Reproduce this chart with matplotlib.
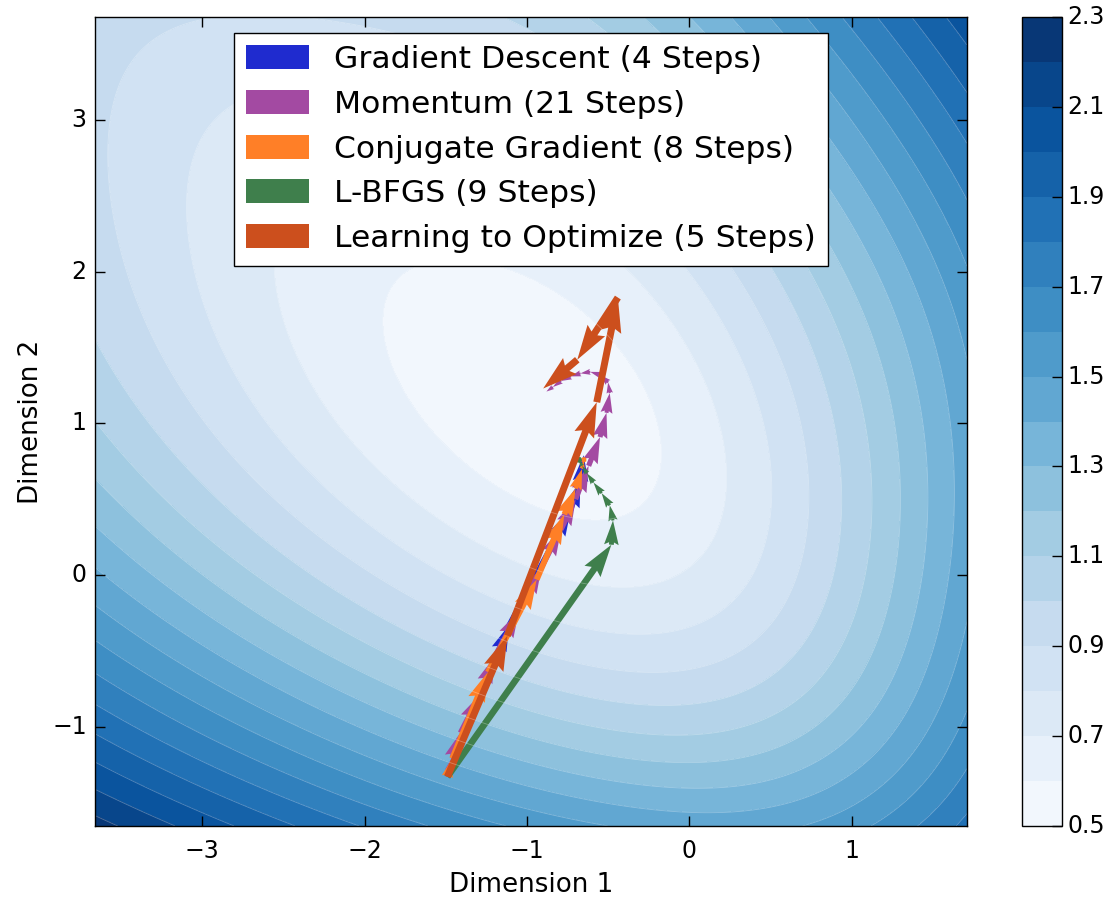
import numpy as np
import matplotlib
matplotlib.use('Agg')
import matplotlib.pyplot as plt

# loss surface: sum of smooth hinge (softplus) walls
base_level = -0.4204
wall_angle = [0.2133, -1.1995, 3.9175, 1.0115, 2.4371]
wall_slope = [0.3984, 0.5507, 0.4740, 0.2812, 0.1067]
wall_offset = [0.2552, -0.4225, -0.1236, -0.9808, -0.1808]
wall_width = [0.45, 1.0735, 0.45, 0.45, 0.45]
levels = np.arange(0.5, 2.31, 0.1)
cbar_ticks = [0.5, 0.7, 0.9, 1.1, 1.3, 1.5, 1.7, 1.9, 2.1, 2.3]

# optimizer iterates
gd_x = [-1.49, -1.11, -0.73, -0.67, -0.65]
gd_y = [-1.33, -0.33, 0.43, 0.62, 0.79]
mom_x = [-1.49, -1.48, -1.46, -1.41, -1.29, -1.20, -1.05, -0.91, -0.79, -0.70, -0.62,
         -0.55, -0.51, -0.49, -0.50, -0.55, -0.61, -0.67, -0.73, -0.79, -0.84, -0.88]
mom_y = [-1.33, -1.29, -1.20, -1.04, -0.79, -0.54, -0.24, 0.05, 0.30, 0.50, 0.72,
         0.91, 1.07, 1.20, 1.27, 1.32, 1.34, 1.33, 1.31, 1.28, 1.24, 1.21]
cg_x = [-1.49, -1.46, -1.24, -0.94, -0.77, -0.70, -0.66, -0.65, -0.65]
cg_y = [-1.33, -1.21, -0.64, -0.03, 0.40, 0.57, 0.70, 0.76, 0.79]
lbfgs_x = [-1.49, -0.48, -0.47, -0.49, -0.54, -0.59, -0.63, -0.66, -0.68, -0.69]
lbfgs_y = [-1.33, 0.20, 0.36, 0.46, 0.54, 0.61, 0.67, 0.72, 0.76, 0.79]
l2o_x = [-1.49, -1.12, -0.57, -0.44, -0.69, -0.90]
l2o_y = [-1.33, -0.40, 1.14, 1.83, 1.42, 1.23]

paths = [
    (gd_x, gd_y, '#1f2bcf', 0.006, 'Gradient Descent (4 Steps)'),
    (mom_x, mom_y, '#a34aa2', 0.006, 'Momentum (21 Steps)'),
    (cg_x, cg_y, '#ff7f27', 0.0068, 'Conjugate Gradient (8 Steps)'),
    (lbfgs_x, lbfgs_y, '#3f7f4c', 0.0075, 'L-BFGS (9 Steps)'),
    (l2o_x, l2o_y, '#cc4f1d', 0.008, 'Learning to Optimize (5 Steps)'),
]


def loss(x, y):
    f = base_level + 0 * x
    for th, s, c, t in zip(wall_angle, wall_slope, wall_offset, wall_width):
        u = (np.cos(th) * x + np.sin(th) * y - c) / t
        f = f + s * t * np.logaddexp(0, u)
    return f


plt.style.use('classic')
fig = plt.figure(figsize=(11.16, 9), dpi=100, facecolor='white')
ax = fig.add_axes([0.0851, 0.0822, 0.7814, 0.8989])

xx, yy = np.meshgrid(np.linspace(-3.66, 1.71, 400), np.linspace(-1.655, 3.68, 400))
zz = loss(xx, yy)
cs = ax.contourf(xx, yy, zz, levels=levels, cmap='Blues')
ax.contour(xx, yy, zz, levels=levels, colors='white', linewidths=0.6, alpha=0.3)

for px, py, color, w, label in paths:
    px = np.array(px)
    py = np.array(py)
    ax.quiver(px[:-1], py[:-1], np.diff(px), np.diff(py), angles='xy',
              scale_units='xy', scale=1, color=color, width=w, label=label)

ax.set_xlim(-3.66, 1.71)
ax.set_ylim(-1.655, 3.68)
ax.set_xticks([-3, -2, -1, 0, 1])
ax.set_yticks([-1, 0, 1, 2, 3])
ax.tick_params(labelsize=17, length=7, width=1)
ax.tick_params(axis='x', pad=9)
ax.tick_params(axis='y', pad=6)
ax.set_xlabel('Dimension 1', fontsize=18.8, labelpad=7)
ax.set_ylabel('Dimension 2', fontsize=18.8, labelpad=6)
ax.legend(loc='upper center', fontsize=22.6, handleheight=0.8)

cax = fig.add_axes([0.9158, 0.0822, 0.0358, 0.8989])
cb = fig.colorbar(cs, cax=cax, ticks=cbar_ticks)
cb.ax.tick_params(labelsize=17, length=7, width=1)

fig.savefig('out.png', facecolor='white')
